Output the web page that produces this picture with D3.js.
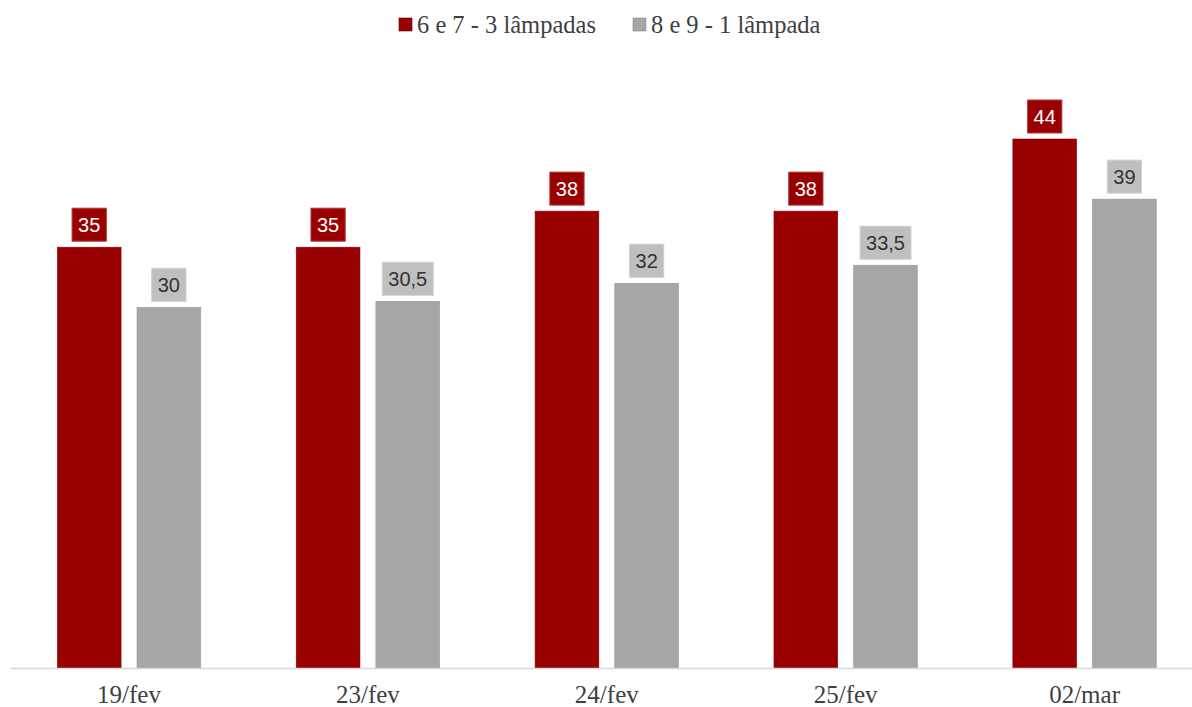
<!DOCTYPE html>
<html>
<head>
<meta charset="utf-8">
<script src="https://cdn.jsdelivr.net/npm/d3@7"></script>
<style>
  html, body { margin: 0; padding: 0; background: #fff; }
  svg { display: block; }
</style>
</head>
<body>
<svg id="chart" width="1192" height="707"></svg>
<script>
// Dates on the horizontal axis
const categories = ["19/fev", "23/fev", "24/fev", "25/fev", "02/mar"];
// Series names shown in the legend
const seriesNames = ["6 e 7 - 3 lâmpadas", "8 e 9 - 1 lâmpada"];
// Values per series
const seriesA = [35, 35, 38, 38, 44];
const seriesB = [30, 30.5, 32, 33.5, 39];

const colors = ["#990000", "#A6A6A6"];
const labelFill = ["#990000", "#BFBFBF"];
const labelStroke = ["#B23A3A", "#D0D0D0"];
const labelText = ["#FFFFFF", "#333333"];

const W = 1192, H = 707;
const svg = d3.select("#chart");

const x0 = d3.scaleBand().domain(categories).range([9.6, 1204]).padding(0);
const innerPad = (x0.bandwidth() - 143.4) / 2;
const x1 = d3.scaleBand().domain(d3.range(seriesNames.length))
  .range([innerPad, x0.bandwidth() - innerPad]).paddingInner(0.2);
const y = d3.scaleLinear().domain([0, 44]).range([668, 139]);

const rows = categories.map((c, i) => ({ cat: c, vals: [seriesA[i], seriesB[i]] }));

const fmt = v => String(v).replace(".", ",");

// Bars
const groups = svg.append("g").selectAll("g").data(rows).join("g")
  .attr("transform", d => `translate(${x0(d.cat)},0)`);

groups.selectAll("rect.bar").data(d => d.vals.map((v, s) => ({ v, s })))
  .join("rect").attr("class", "bar")
  .attr("x", d => x1(d.s))
  .attr("width", x1.bandwidth())
  .attr("y", d => y(d.v))
  .attr("height", d => y(0) - y(d.v))
  .attr("fill", d => colors[d.s])
  .attr("stroke", d => d.s === 0 ? "#8a0000" : "#9a9a9a")
  .attr("stroke-width", 0.6);

// Value labels in boxes above the bars
const boxH = 33;
const lab = groups.selectAll("g.lab").data(d => d.vals.map((v, s) => ({ v, s })))
  .join("g").attr("class", "lab")
  .attr("transform", d => `translate(${x1(d.s) + x1.bandwidth() / 2},${y(d.v) - 6 - boxH / 2})`);

lab.each(function(d) {
  const g = d3.select(this);
  const t = g.append("text")
    .attr("text-anchor", "middle")
    .attr("dy", "0.36em")
    .attr("font-family", "'Liberation Sans', Arial, sans-serif")
    .attr("font-size", 20)
    .attr("fill", labelText[d.s])
    .text(fmt(d.v));
  const w = t.node().getComputedTextLength() + 12;
  g.insert("rect", "text")
    .attr("x", -w / 2).attr("y", -boxH / 2)
    .attr("width", w).attr("height", boxH)
    .attr("fill", labelFill[d.s])
    .attr("stroke", labelStroke[d.s])
    .attr("stroke-width", 1);
});

// Category axis
svg.append("line")
  .attr("x1", 10).attr("x2", W)
  .attr("y1", 668.5).attr("y2", 668.5)
  .attr("stroke", "#D9D9D9").attr("stroke-width", 1.5);

svg.append("g").selectAll("text").data(categories).join("text")
  .attr("x", d => x0(d) + x0.bandwidth() / 2)
  .attr("y", 703)
  .attr("text-anchor", "middle")
  .attr("font-family", "'Liberation Serif', 'Times New Roman', serif")
  .attr("font-size", 25)
  .attr("fill", "#404040")
  .text(d => d);

// Legend
const legendX = [399, 633];
const leg = svg.append("g").selectAll("g").data(seriesNames).join("g")
  .attr("transform", (d, i) => `translate(${legendX[i]},18)`);
leg.append("rect").attr("width", 13).attr("height", 13)
  .attr("fill", (d, i) => colors[i])
  .attr("stroke", (d, i) => i === 0 ? "#6a0000" : "#909090").attr("stroke-width", 0.6);
leg.append("text")
  .attr("x", 18).attr("y", 15)
  .attr("font-family", "'Liberation Serif', 'Times New Roman', serif")
  .attr("font-size", 24.5)
  .attr("fill", "#404040")
  .text(d => d);
</script>
</body>
</html>
